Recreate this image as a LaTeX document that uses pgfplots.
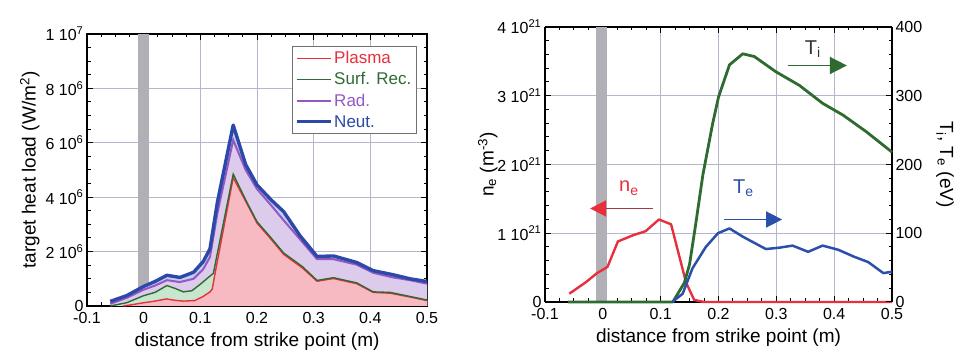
\documentclass[border=0pt]{standalone}
\usepackage{pgfplots}
\pgfplotsset{compat=1.18}
\usepackage{fontspec}
\setmainfont{Liberation Sans}
\usetikzlibrary{arrows.meta}

\definecolor{plasmaC}{HTML}{E8303C}
\definecolor{plasmaF}{HTML}{F7B9C2}
\definecolor{surfC}{HTML}{2E6B34}
\definecolor{surfF}{HTML}{C6E6CE}
\definecolor{radC}{HTML}{9458C4}
\definecolor{radF}{HTML}{DCCBEB}
\definecolor{neutC}{HTML}{2C48A8}
\definecolor{neutF}{HTML}{C4CEF0}
\definecolor{gridC}{HTML}{B4B6CC}
\definecolor{bandC}{HTML}{B0B0B6}
\definecolor{legC}{HTML}{707070}
\definecolor{neC}{HTML}{E8303C}
\definecolor{neDark}{HTML}{A83848}
\definecolor{tiC}{HTML}{2E6B30}
\definecolor{teC}{HTML}{2B4FAA}

% heat load components, stacked boundaries (units of 1e6 W/m^2)
\pgfplotstableread{
x y
-0.036 0.00
-0.020 0.05
 0.000 0.12
 0.020 0.18
 0.040 0.26
 0.055 0.21
 0.070 0.18
 0.090 0.20
 0.105 0.35
 0.117 0.52
 0.121 0.62
 0.126 1.20
 0.158 4.72
 0.180 3.85
 0.200 3.05
 0.225 2.45
 0.247 1.90
 0.280 1.40
 0.306 0.91
 0.335 1.01
 0.376 0.82
 0.405 0.50
 0.435 0.47
 0.470 0.33
 0.500 0.20
}\plasma
\pgfplotstableread{
x y
-0.059 0.00
-0.030 0.12
 0.000 0.38
 0.020 0.50
 0.041 0.75
 0.055 0.65
 0.070 0.52
 0.085 0.56
 0.100 0.80
 0.117 1.10
 0.123 1.20
 0.158 4.85
 0.180 3.90
 0.200 3.10
 0.225 2.50
 0.247 1.95
 0.280 1.45
 0.306 0.94
 0.335 1.04
 0.376 0.85
 0.405 0.52
 0.435 0.50
 0.470 0.35
 0.500 0.22
}\surf
\pgfplotstableread{
x y
-0.059 0.08
-0.030 0.30
 0.000 0.60
 0.020 0.75
 0.041 0.95
 0.064 0.88
 0.088 1.00
 0.105 1.35
 0.117 1.80
 0.130 3.40
 0.158 6.10
 0.180 5.00
 0.200 4.30
 0.225 3.70
 0.247 3.15
 0.276 2.45
 0.306 1.72
 0.335 1.72
 0.376 1.52
 0.405 1.22
 0.440 1.05
 0.470 0.95
 0.500 0.82
}\rad
\pgfplotstableread{
x y
-0.059 0.17
-0.030 0.38
 0.000 0.72
 0.020 0.90
 0.041 1.13
 0.064 1.05
 0.088 1.24
 0.105 1.63
 0.117 2.10
 0.130 3.80
 0.158 6.65
 0.180 5.20
 0.200 4.45
 0.225 3.90
 0.247 3.47
 0.276 2.58
 0.306 1.82
 0.335 1.84
 0.376 1.60
 0.405 1.30
 0.440 1.15
 0.470 1.00
 0.500 0.90
}\neut

% electron density (units of 1e21 m^-3)
\pgfplotstableread{
x y
-0.058 0.12
-0.029 0.29
-0.010 0.42
 0.008 0.51
 0.026 0.88
 0.052 0.97
 0.074 1.03
 0.097 1.20
 0.118 1.13
 0.144 0.28
 0.158 0.03
 0.175 0.00
 0.500 0.00
}\ne
% ion temperature (eV)
\pgfplotstableread{
x y
-0.060 0
 0.121 0
 0.141 28
 0.150 55
 0.160 110
 0.173 185
 0.190 260
 0.200 298
 0.219 345
 0.242 361
 0.262 357
 0.299 335
 0.340 315
 0.380 289
 0.415 272
 0.455 248
 0.500 218
}\Ti
% electron temperature (eV)
\pgfplotstableread{
x y
0.120 0
0.138 12
0.155 49
0.178 80
0.199 100
0.219 107
0.242 95
0.282 77
0.305 79
0.328 82
0.355 73
0.380 82
0.407 76
0.434 66
0.459 58
0.485 42
0.500 44
}\Te

\pgfplotsset{
  panel/.style={
    scale only axis,
    xmin=-0.1, xmax=0.5,
    xtick={-0.1,0,0.1,0.2,0.3,0.4,0.5},
    xticklabels={-0.1,0,0.1,0.2,0.3,0.4,0.5},
    minor x tick num=3,
    tick align=inside,
    major tick length=6pt,
    minor tick length=3.5pt,
    every tick/.style={black, line width=1pt},
    axis line style={line width=1.3pt},
    tick label style={font=\fontsize{16}{18}\selectfont},
    xticklabel style={yshift=-3pt},
    label style={font=\fontsize{19}{22}\selectfont},
    xlabel style={at={(axis description cs:0.5,0)}, anchor=center, yshift=-36pt},
    major grid style={gridC, line width=0.9pt},
    /pgf/number format/assume math mode=true,
    xlabel={distance from strike point (m)},
    clip=false,
  },
}

\begin{document}
\begin{tikzpicture}
\useasboundingbox (0pt,0pt) rectangle (956pt,350pt);

% ---------- heat load panel ----------
\begin{axis}[panel,
  at={(87pt,44pt)}, anchor=south west,
  width=340pt, height=272pt,
  ymin=0, ymax=10,
  ytick={0,2,4,6,8,10},
  yticklabels={0,2 10\textsuperscript{6},4 10\textsuperscript{6},6 10\textsuperscript{6},8 10\textsuperscript{6},1 10\textsuperscript{7}},
  minor y tick num=3,
  grid=major,
  ylabel={target heat load (W/m\textsuperscript{2})},
  ylabel style={at={(axis description cs:-0.168,0.5)}, anchor=center},
  legend style={at={(0.97,0.956)}, anchor=north east, draw=legC,
    line width=0.8pt, fill=white, inner sep=3pt,
    font=\fontsize{17}{19}\selectfont, row sep=3.5pt},
  legend cell align=left,
  legend image code/.code={\draw[#1] (0pt,0pt) -- (34pt,0pt);},
]
\addplot[draw=none, fill=bandC, forget plot] coordinates {(-0.010,10) (0.009,10)} \closedcycle;
\addplot[draw=none, fill=neutF, forget plot] table {\neut} \closedcycle;
\addplot[draw=none, fill=radF, forget plot] table {\rad} \closedcycle;
\addplot[draw=none, fill=surfF, forget plot] table {\surf} \closedcycle;
\addplot[draw=none, fill=plasmaF, forget plot] table {\plasma} \closedcycle;
\addplot[plasmaC, line width=1.4pt, forget plot] table {\plasma};
\addplot[surfC, line width=1.4pt, forget plot] table {\surf};
\addplot[radC, line width=2pt, forget plot] table {\rad};
\addplot[neutC, line width=3.4pt, line join=round, forget plot] table {\neut};

\addlegendimage{plasmaC, line width=1.4pt}
\addlegendentry{\textcolor{plasmaC}{Plasma}}
\addlegendimage{surfC, line width=1.4pt}
\addlegendentry{\textcolor{surfC}{Surf. Rec.}}
\addlegendimage{radC, line width=2pt}
\addlegendentry{\textcolor{radC}{Rad.}}
\addlegendimage{neutC, line width=3pt}
\addlegendentry{\textcolor{neutC}{Neut.}}
\end{axis}

% ---------- density / temperature panel ----------
\begin{axis}[panel,
  at={(545pt,48pt)}, anchor=south west,
  width=347pt, height=275pt,
  axis y line*=left,
  ymin=0, ymax=4,
  ytick={0,1,2,3,4},
  yticklabels={0,1 10\textsuperscript{21},2 10\textsuperscript{21},3 10\textsuperscript{21},4 10\textsuperscript{21}},
  minor y tick num=4,
  grid=major,
  ylabel={n\textsubscript{e} (m\textsuperscript{-3})},
  ylabel style={at={(axis description cs:-0.165,0.5)}, anchor=center},
]
\addplot[draw=none, fill=bandC] coordinates {(-0.012,4) (0.008,4)} \closedcycle;
\addplot[neC, line width=2.4pt, line join=round] table {\ne};
\node[text=neC, font=\fontsize{20}{22}\selectfont, anchor=base] at (axis cs:0.045,1.6) {n\textsubscript{e}};
\draw[neDark, line width=1.6pt, -{Triangle[length=16pt,width=16pt,color=neC]}]
  (axis cs:0.087,1.36) -- (axis cs:-0.022,1.36);
\end{axis}

\begin{axis}[panel,
  at={(545pt,48pt)}, anchor=south west,
  width=347pt, height=275pt,
  axis y line*=right,
  axis x line=none,
  xlabel={},
  ymin=0, ymax=400,
  ytick={0,100,200,300,400},
  yticklabels={0,100,200,300,400},
  minor y tick num=4,
  ylabel={T\textsubscript{i}, T\textsubscript{e} (eV)},
  ylabel style={at={(axis description cs:1.153,0.5)}, anchor=center, rotate=180},
]
\addplot[tiC, line width=2.8pt, line join=round] table {\Ti};
\addplot[teC, line width=2.5pt, line join=round] table {\Te};
\node[text=teC, font=\fontsize{20}{22}\selectfont, anchor=base] at (axis cs:0.243,158) {T\textsubscript{e}};
\draw[teC, line width=1.6pt, -{Triangle[length=16pt,width=16pt]}]
  (axis cs:0.21,120) -- (axis cs:0.31,120);
\node[text=black!80, font=\fontsize{20}{22}\selectfont, anchor=base] at (axis cs:0.363,360) {T\textsubscript{i}};
\draw[tiC, line width=1.6pt, -{Triangle[length=17pt,width=17pt]}]
  (axis cs:0.32,344) -- (axis cs:0.422,344);
\end{axis}
\end{tikzpicture}
\end{document}
